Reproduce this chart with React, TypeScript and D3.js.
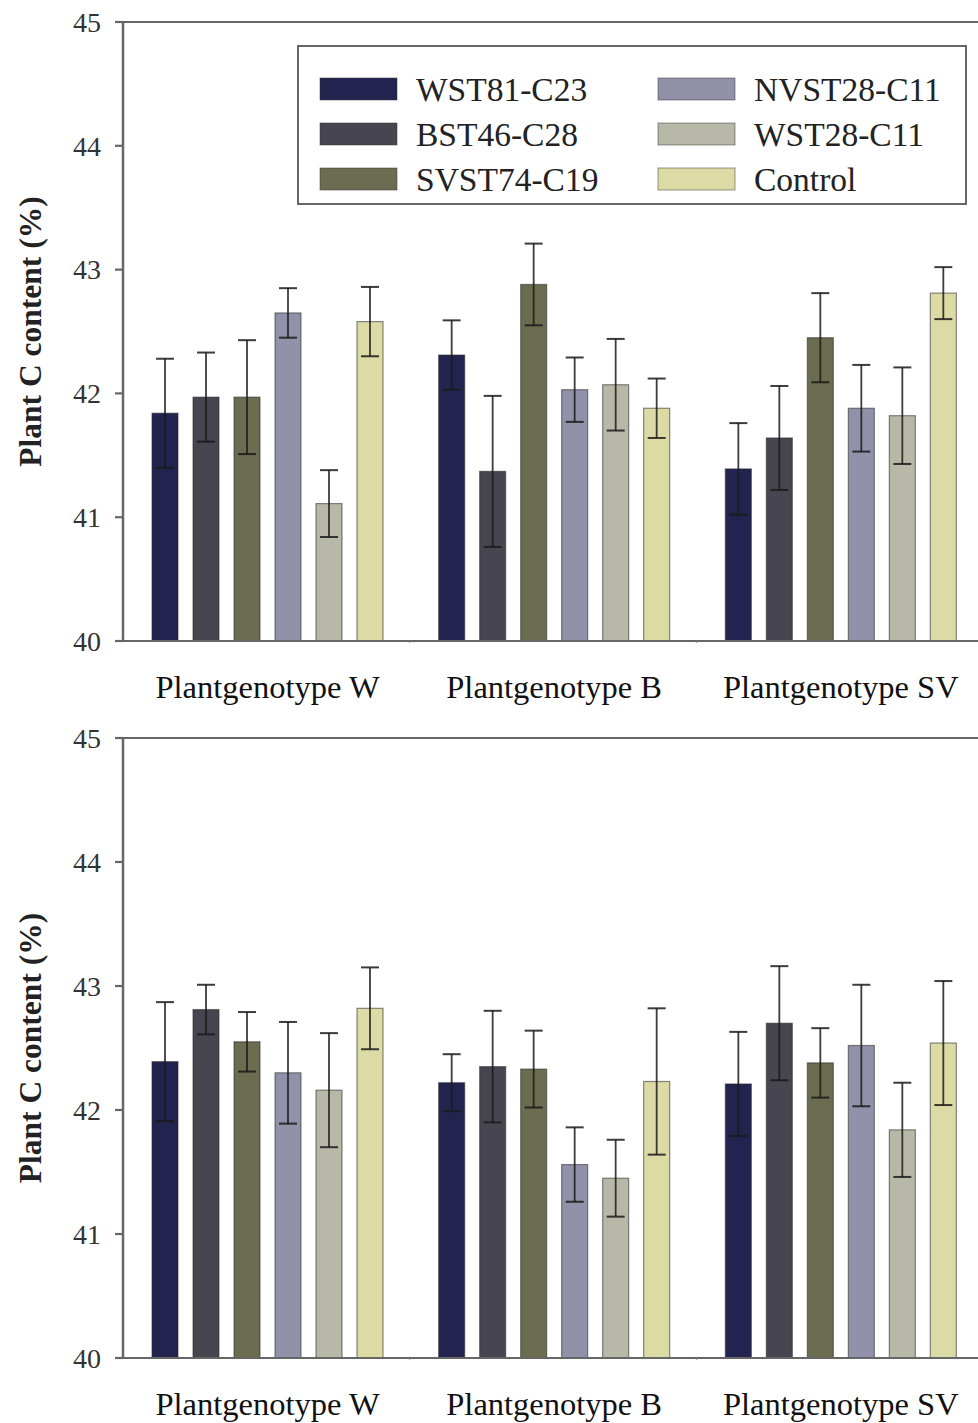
import React from "react";
import * as d3 from "d3";

const groups = ["Plantgenotype W", "Plantgenotype B", "Plantgenotype SV"];
const series = ["WST81-C23", "BST46-C28", "SVST74-C19", "NVST28-C11", "WST28-C11", "Control"];
const colors = ["#23234f", "#464550", "#6b6c50", "#9191a9", "#b8b8a8", "#dcdba5"];
const yTicks = [40, 41, 42, 43, 44, 45];

// top panel: mean values per group (rows = groups, cols = series)
const topMeans = [
  [41.84, 41.97, 41.97, 42.65, 41.11, 42.58],
  [42.31, 41.37, 42.88, 42.03, 42.07, 41.88],
  [41.39, 41.64, 42.45, 41.88, 41.82, 42.81],
];
const topErrs = [
  [0.44, 0.36, 0.46, 0.2, 0.27, 0.28],
  [0.28, 0.61, 0.33, 0.26, 0.37, 0.24],
  [0.37, 0.42, 0.36, 0.35, 0.39, 0.21],
];
// bottom panel
const botMeans = [
  [42.39, 42.81, 42.55, 42.3, 42.16, 42.82],
  [42.22, 42.35, 42.33, 41.56, 41.45, 42.23],
  [42.21, 42.7, 42.38, 42.52, 41.84, 42.54],
];
const botErrs = [
  [0.48, 0.2, 0.24, 0.41, 0.46, 0.33],
  [0.23, 0.45, 0.31, 0.3, 0.31, 0.59],
  [0.42, 0.46, 0.28, 0.49, 0.38, 0.5],
];

const W = 978;
const H = 1423;
const FONT = "'Liberation Serif', 'Times New Roman', serif";

const xLeft = 123;
const xRight = 983;
const xGroup = d3.scaleBand<string>().domain(groups).range([xLeft, xRight]).padding(0);
const xInner = d3.scaleBand<string>().domain(series).range([29, 260]).paddingInner(15 / 41).paddingOuter(0);

function Panel({ yTop, yBot, means, errs, showLegend }: { yTop: number; yBot: number; means: number[][]; errs: number[][]; showLegend: boolean }) {
  const y = d3.scaleLinear().domain([40, 45]).range([yBot, yTop]);
  const capW = 18;
  return (
    <g>
      {groups.map((g, gi) =>
        series.map((s, si) => {
          const x0 = (xGroup(g) as number) + (xInner(s) as number);
          const bw = xInner.bandwidth();
          const v = means[gi][si];
          const e = errs[gi][si];
          const cx = x0 + bw / 2;
          return (
            <g key={g + s}>
              <rect x={x0} y={y(v)} width={bw} height={y(40) - y(v)} fill={colors[si]} stroke="#2a2a2a" strokeOpacity={0.55} strokeWidth={1.2} />
              <line x1={cx} x2={cx} y1={y(v + e)} y2={y(v - e)} stroke="#1a1a1a" strokeWidth={1.8} strokeOpacity={0.85} />
              <line x1={cx - capW / 2} x2={cx + capW / 2} y1={y(v + e)} y2={y(v + e)} stroke="#1a1a1a" strokeWidth={2} strokeOpacity={0.85} />
              <line x1={cx - capW / 2} x2={cx + capW / 2} y1={y(v - e)} y2={y(v - e)} stroke="#1a1a1a" strokeWidth={2} strokeOpacity={0.85} />
            </g>
          );
        })
      )}
      <line x1={115} x2={W} y1={y(45)} y2={y(45)} stroke="#666" strokeWidth={2.2} />
      <line x1={115} x2={W} y1={y(40)} y2={y(40)} stroke="#666" strokeWidth={2.2} />
      <line x1={xLeft} x2={xLeft} y1={y(45)} y2={y(40)} stroke="#666" strokeWidth={2.5} />
      {yTicks.map((t) => (
        <g key={t}>
          <line x1={115} x2={xLeft} y1={y(t)} y2={y(t)} stroke="#666" strokeWidth={2.2} />
          <text x={101} y={y(t)} dy="0.35em" textAnchor="end" fontFamily={FONT} fontSize={28} fill="#333">
            {t}
          </text>
        </g>
      ))}
      {groups.slice(1).map((g) => (
        <line key={"b" + g} x1={xGroup(g) as number} x2={xGroup(g) as number} y1={y(40)} y2={y(40) + 2} stroke="#888" strokeWidth={1} />
      ))}
      {groups.map((g) => (
        <text key={"l" + g} x={(xGroup(g) as number) + 29 + 115.5} y={y(40) + 57} textAnchor="middle" fontFamily={FONT} fontSize={32.5} fill="#111">
          {g}
        </text>
      ))}
      <text
        transform={`translate(41,${(y(45) + y(40)) / 2 + 0}) rotate(-90)`}
        textAnchor="middle"
        fontFamily={FONT}
        fontWeight="bold"
        fontSize={31.5}
        fill="#222"
      >
        Plant C content (%)
      </text>
      {showLegend && (
        <g>
          <rect x={298} y={46} width={668} height={158} fill="#fff" stroke="#666" strokeWidth={2} />
          {series.map((s, i) => {
            const col = Math.floor(i / 3);
            const row = i % 3;
            const sx = col === 0 ? 320 : 658;
            const cy = 89 + row * 45;
            return (
              <g key={"lg" + s}>
                <rect x={sx} y={cy - 11} width={77} height={22} fill={colors[i]} stroke="#333" strokeOpacity={0.5} strokeWidth={1} />
                <text x={sx + 96} y={cy} dy="0.35em" fontFamily={FONT} fontSize={33.5} fill="#222">
                  {s}
                </text>
              </g>
            );
          })}
        </g>
      )}
    </g>
  );
}

export default function App() {
  return (
    <svg width={W} height={H} style={{ position: "absolute", left: 0, top: 0, background: "#fff" }}>
      <rect x={0} y={0} width={W} height={H} fill="#fff" />
      <Panel yTop={22} yBot={641} means={topMeans} errs={topErrs} showLegend={true} />
      <Panel yTop={738} yBot={1358} means={botMeans} errs={botErrs} showLegend={false} />
    </svg>
  );
}
